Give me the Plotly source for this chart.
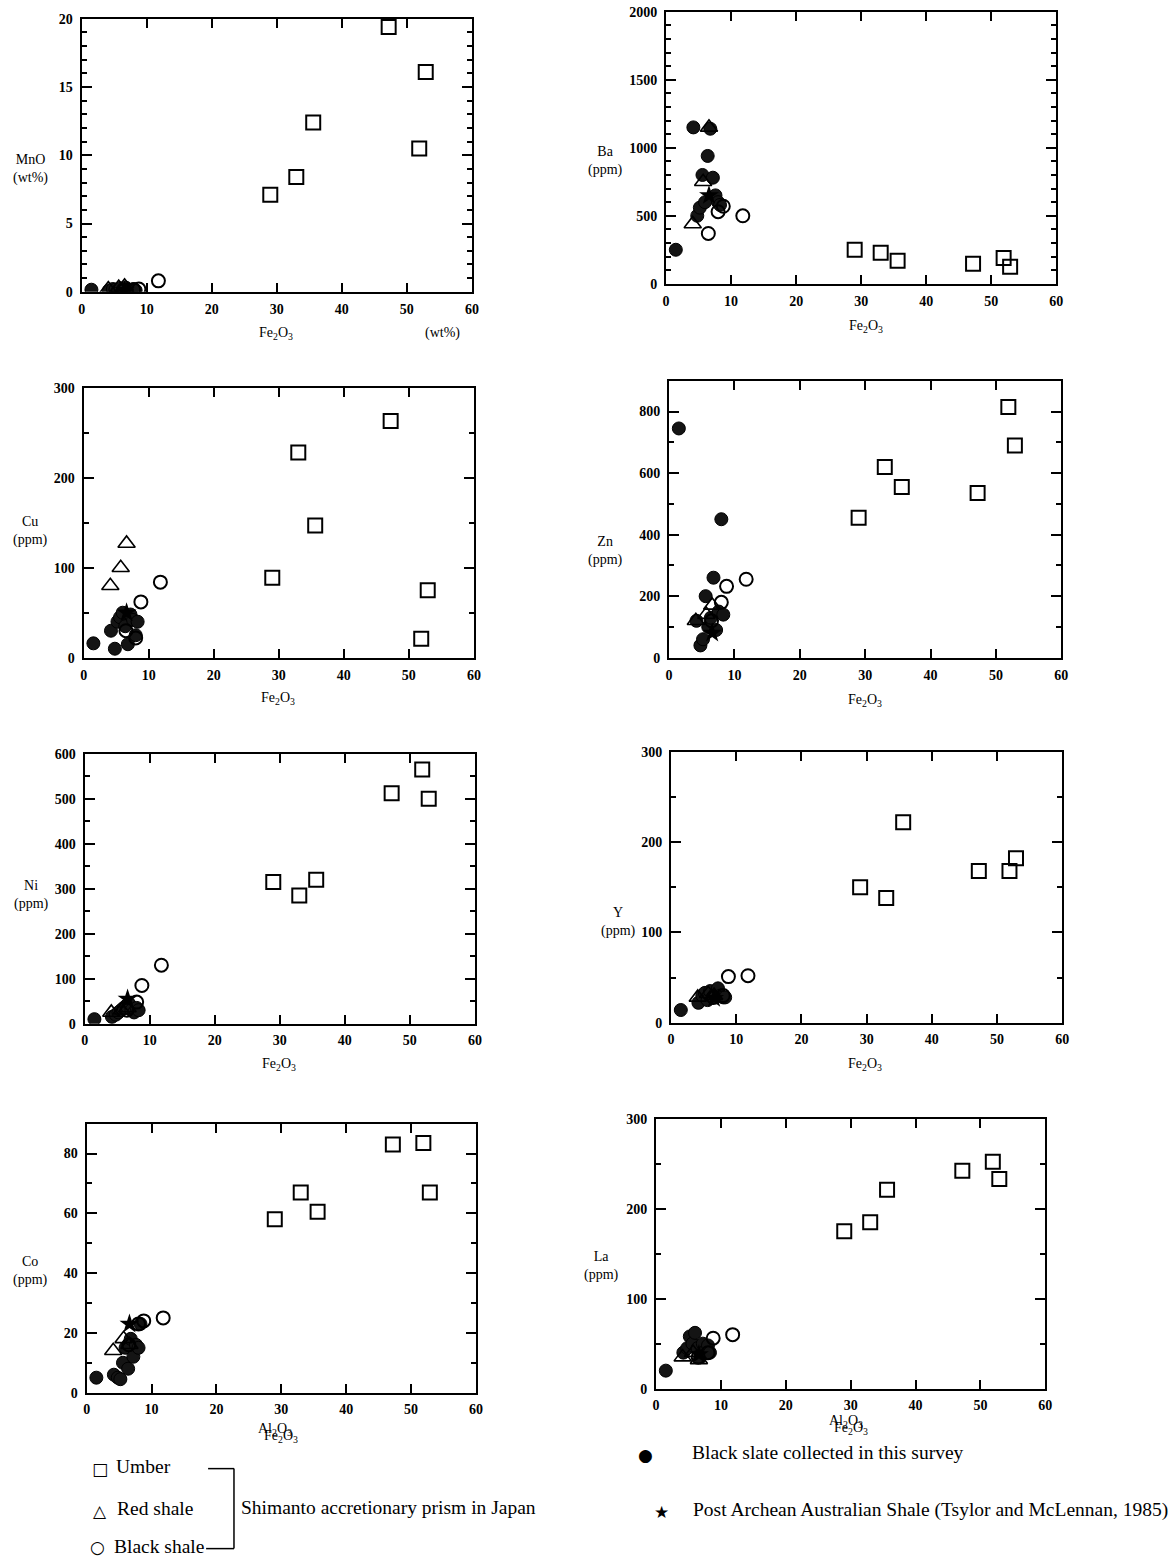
import plotly.graph_objects as go

W, H = 1169, 1559

# ---------------- data ----------------
# Umber (open squares)
umber_fe = [29.0, 33.0, 35.6, 47.2, 51.9, 52.9]
umber_mno = [7.1, 8.4, 12.4, 19.4, 10.5, 16.1]
umber_ba = [250, 228, 170, 147, 190, 125]
umber_cu = [89, 228, 147, 263, 21, 75]
umber_zn = [455, 620, 555, 535, 815, 690]
umber_ni = [315, 285, 320, 512, 565, 500]
umber_y = [150, 138, 222, 168, 168, 182]
umber_co = [58, 67, 60.5, 83, 83.5, 67]
umber_la = [175, 185, 221, 242, 252, 233]

# Red shale (open triangles)
red_fe = [4.1, 5.7, 6.6]
red_mno = [0.2, 0.3, 0.4]
red_ba = [440, 750, 1150]
red_cu = [80, 100, 127]
red_zn = [120, 140, 170]
red_ni = [25, 30, 35]
red_y = [28, 32, 30]
red_co = [14, 18, 16]
red_la = [35, 40, 32]

# Black shale (open circles)
bsh_fe = [11.8, 8.8, 8.0, 6.5]
bsh_mno = [0.8, 0.2, 0.15, 0.1]
bsh_ba = [500, 570, 530, 370]
bsh_cu = [84, 62, 22, 30]
bsh_zn = [255, 232, 180, 120]
bsh_ni = [130, 85, 48, 30]
bsh_y = [52, 51, 30, 28]
bsh_co = [25, 24, 23, 16]
bsh_la = [60, 56, 40, 35]

# Black slate collected in this survey (filled circles)
bsl_fe = [1.5, 4.2, 4.8, 5.2, 5.6, 6.0, 6.4, 6.8, 7.2, 7.6, 8.0, 8.3]
bsl_mno = [0.15, 0.1, 0.2, 0.15, 0.1, 0.25, 0.2, 0.3, 0.15, 0.1, 0.2, 0.1]
bsl_ba = [250, 1150, 500, 560, 800, 600, 940, 1140, 780, 650, 600, 580]
bsl_cu = [16, 30, 10, 40, 45, 50, 35, 15, 48, 42, 25, 40]
bsl_zn = [745, 120, 40, 60, 200, 100, 130, 260, 90, 150, 450, 140]
bsl_ni = [10, 15, 20, 25, 30, 35, 40, 45, 30, 25, 35, 30]
bsl_y = [14, 22, 30, 33, 25, 35, 28, 32, 38, 30, 28, 28]
bsl_co = [5, 6, 5, 4.5, 10, 15, 8, 18, 12, 16, 15, 23]
bsl_la = [20, 40, 45, 58, 50, 62, 45, 35, 50, 42, 48, 40]

# Post Archean Australian Shale (star)
paas_fe = [6.6]
paas_mno = [0.11]
paas_ba = [650]
paas_cu = [50]
paas_zn = [80]
paas_ni = [55]
paas_y = [27]
paas_co = [23]
paas_la = [38]

# panel definitions
panel_names = ["MnO", "Ba", "Cu", "Zn", "Ni", "Y", "Co", "La"]
panel_ylabels = ["MnO<br>(wt%)", "Ba<br>(ppm)", "Cu<br>(ppm)", "Zn<br>(ppm)",
                 "Ni<br>(ppm)", "Y<br>(ppm)", "Co<br>(ppm)", "La<br>(ppm)"]
panel_ymax = [20, 2000, 300, 900, 600, 300, 90, 300]
panel_dtick = [5, 500, 100, 200, 100, 100, 20, 100]
panel_minor = [1, 100, 50, 100, 50, 50, 10, 50]
x_range = [0, 60]
x_ticks = [0, 10, 20, 30, 40, 50, 60]

umber_vals = [umber_mno, umber_ba, umber_cu, umber_zn, umber_ni, umber_y, umber_co, umber_la]
red_vals = [red_mno, red_ba, red_cu, red_zn, red_ni, red_y, red_co, red_la]
bsh_vals = [bsh_mno, bsh_ba, bsh_cu, bsh_zn, bsh_ni, bsh_y, bsh_co, bsh_la]
bsl_vals = [bsl_mno, bsl_ba, bsl_cu, bsl_zn, bsl_ni, bsl_y, bsl_co, bsl_la]
paas_vals = [paas_mno, paas_ba, paas_cu, paas_zn, paas_ni, paas_y, paas_co, paas_la]

# plot-area boxes in target pixels (left, right, top, bottom)
boxes = [
    (78, 470, 18, 291),
    (665, 1057, 11, 283),
    (80, 472, 387, 657),
    (668, 1062, 380, 657),
    (81, 473, 753, 1023),
    (670, 1063, 751, 1022),
    (83, 474, 1123, 1392),
    (655, 1046, 1118, 1388),
]
ylab_pos = [(27, 168), (604, 160), (27, 530), (604, 550), (28, 894), (617, 921), (27, 1270), (600, 1265)]

SERIF = "Liberation Serif"
fig = go.Figure()
layout = dict(
    width=W, height=H, margin=dict(l=0, r=0, t=0, b=0),
    paper_bgcolor="white", plot_bgcolor="white", showlegend=False,
    font=dict(family=SERIF, color="black"),
)
annotations = []
shapes = []

# map target pixel positions to paper fractions (with a small correction for page capture)
def px(x):
    return (x / 0.995) / W

def py(y):
    return 1 - ((y - 6.2) / 0.9905) / H

for i in range(8):
    n = i + 1
    xa = "xaxis" if n == 1 else f"xaxis{n}"
    ya = "yaxis" if n == 1 else f"yaxis{n}"
    xr = "x" if n == 1 else f"x{n}"
    yr = "y" if n == 1 else f"y{n}"
    l, r, t, b = boxes[i]
    layout[xa] = dict(
        domain=[max(0, px(l)), min(1, px(r))], anchor=yr, range=x_range, tickvals=x_ticks,
        showline=True, linecolor="black", linewidth=2, mirror="allticks",
        ticks="inside", ticklen=9, tickwidth=2, tickcolor="black",
        showgrid=False, zeroline=False, ticklabelstandoff=3,
        tickfont=dict(family=SERIF, size=14, color="black", weight="bold"),
    )
    layout[ya] = dict(
        domain=[max(0, py(b)), min(1, py(t))], anchor=xr, range=[0, panel_ymax[i]],
        tick0=0, dtick=panel_dtick[i],
        showline=True, linecolor="black", linewidth=2, mirror="allticks",
        ticks="inside", ticklen=10, tickwidth=2, tickcolor="black",
        minor=dict(ticks="inside", ticklen=5, tickwidth=1.5, dtick=panel_minor[i], tickcolor="black"),
        showgrid=False, zeroline=False, ticklabelstandoff=4,
        tickfont=dict(family=SERIF, size=14, color="black", weight="bold"),
    )
    fig.add_trace(go.Scatter(x=bsl_fe, y=bsl_vals[i], mode="markers", xaxis=xr, yaxis=yr,
                             marker=dict(symbol="circle", size=13, color="#141414",
                                         line=dict(color="#000", width=1))))
    fig.add_trace(go.Scatter(x=red_fe, y=red_vals[i], mode="markers", xaxis=xr, yaxis=yr,
                             marker=dict(symbol="triangle-up-open", size=15, color="black",
                                         line=dict(color="black", width=1.6))))
    fig.add_trace(go.Scatter(x=bsh_fe, y=bsh_vals[i], mode="markers", xaxis=xr, yaxis=yr,
                             marker=dict(symbol="circle-open", size=13, color="black",
                                         line=dict(color="black", width=2))))
    fig.add_trace(go.Scatter(x=paas_fe, y=paas_vals[i], mode="markers", xaxis=xr, yaxis=yr,
                             marker=dict(symbol="star", size=15, color="black")))
    fig.add_trace(go.Scatter(x=umber_fe, y=umber_vals[i], mode="markers", xaxis=xr, yaxis=yr,
                             marker=dict(symbol="square-open", size=14, color="black",
                                         line=dict(color="black", width=2))))
    lx, ly = ylab_pos[i]
    annotations.append(dict(x=px(lx), y=py(ly), xref="paper", yref="paper",
                            text=panel_ylabels[i], showarrow=False,
                            font=dict(family=SERIF, size=14, color="black"),
                            xanchor="center", yanchor="middle", align="center"))

# x-axis titles
xt = [(273, 333, "Fe<sub>2</sub>O<sub>3</sub>"), (866, 326, "Fe<sub>2</sub>O<sub>3</sub>"),
      (275, 698, "Fe<sub>2</sub>O<sub>3</sub>"), (865, 700, "Fe<sub>2</sub>O<sub>3</sub>"),
      (276, 1064, "Fe<sub>2</sub>O<sub>3</sub>"), (865, 1064, "Fe<sub>2</sub>O<sub>3</sub>"),
      (272, 1429, "Al<sub>2</sub>O<sub>3</sub>"), (278, 1436, "Fe<sub>2</sub>O<sub>3</sub>"),
      (846, 1421, "Al<sub>2</sub>O<sub>3</sub>"), (851, 1428, "Fe<sub>2</sub>O<sub>3</sub>")]
for (x, y, s) in xt:
    annotations.append(dict(x=px(x), y=py(y), xref="paper", yref="paper", text=s,
                            showarrow=False, font=dict(family=SERIF, size=14, color="black"),
                            xanchor="center", yanchor="middle"))
annotations.append(dict(x=px(440), y=py(332), xref="paper", yref="paper", text="(wt%)",
                        showarrow=False, font=dict(family=SERIF, size=14, color="black"),
                        xanchor="center", yanchor="middle"))

# legend at bottom
leg_font = dict(family=SERIF, size=19.5, color="black")
leg_items = [
    (96, 1468, "□", 110, "Umber", 1466),
    (96, 1510, "△", 111, "Red shale", 1508),
    (94, 1546, "○", 108, "Black shale", 1546),
    (644, 1454, "●", 689, "Black slate collected in this survey", 1452),
    (660, 1511, "★", 690, "Post Archean Australian Shale (Tsylor and McLennan, 1985)", 1509),
]
for (sx, sy, sym, tx, txt, ty) in leg_items:
    annotations.append(dict(x=px(sx), y=py(sy), xref="paper", yref="paper", text=sym,
                            showarrow=False, font=dict(family="DejaVu Sans", size=17, color="black"),
                            xanchor="center", yanchor="middle"))
    annotations.append(dict(x=px(tx), y=py(ty), xref="paper", yref="paper", text=txt,
                            showarrow=False, font=leg_font, xanchor="left", yanchor="middle"))
annotations.append(dict(x=px(236), y=py(1507), xref="paper", yref="paper",
                        text="Shimanto accretionary prism in Japan", showarrow=False,
                        font=leg_font, xanchor="left", yanchor="middle"))
for (x0, y0, x1, y1) in [(205, 1468, 231, 1468), (231, 1468, 231, 1548), (203, 1548, 231, 1548)]:
    shapes.append(dict(type="line", xref="paper", yref="paper", x0=px(x0), y0=py(y0),
                       x1=px(x1), y1=py(y1), line=dict(color="black", width=1.5)))

layout["annotations"] = annotations
layout["shapes"] = shapes
fig.update_layout(**layout)
fig.write_html("out.html", config={"displayModeBar": False},
               post_script="document.body.style.margin='0';document.body.style.padding='0';"
                           "document.documentElement.style.overflow='hidden';")
